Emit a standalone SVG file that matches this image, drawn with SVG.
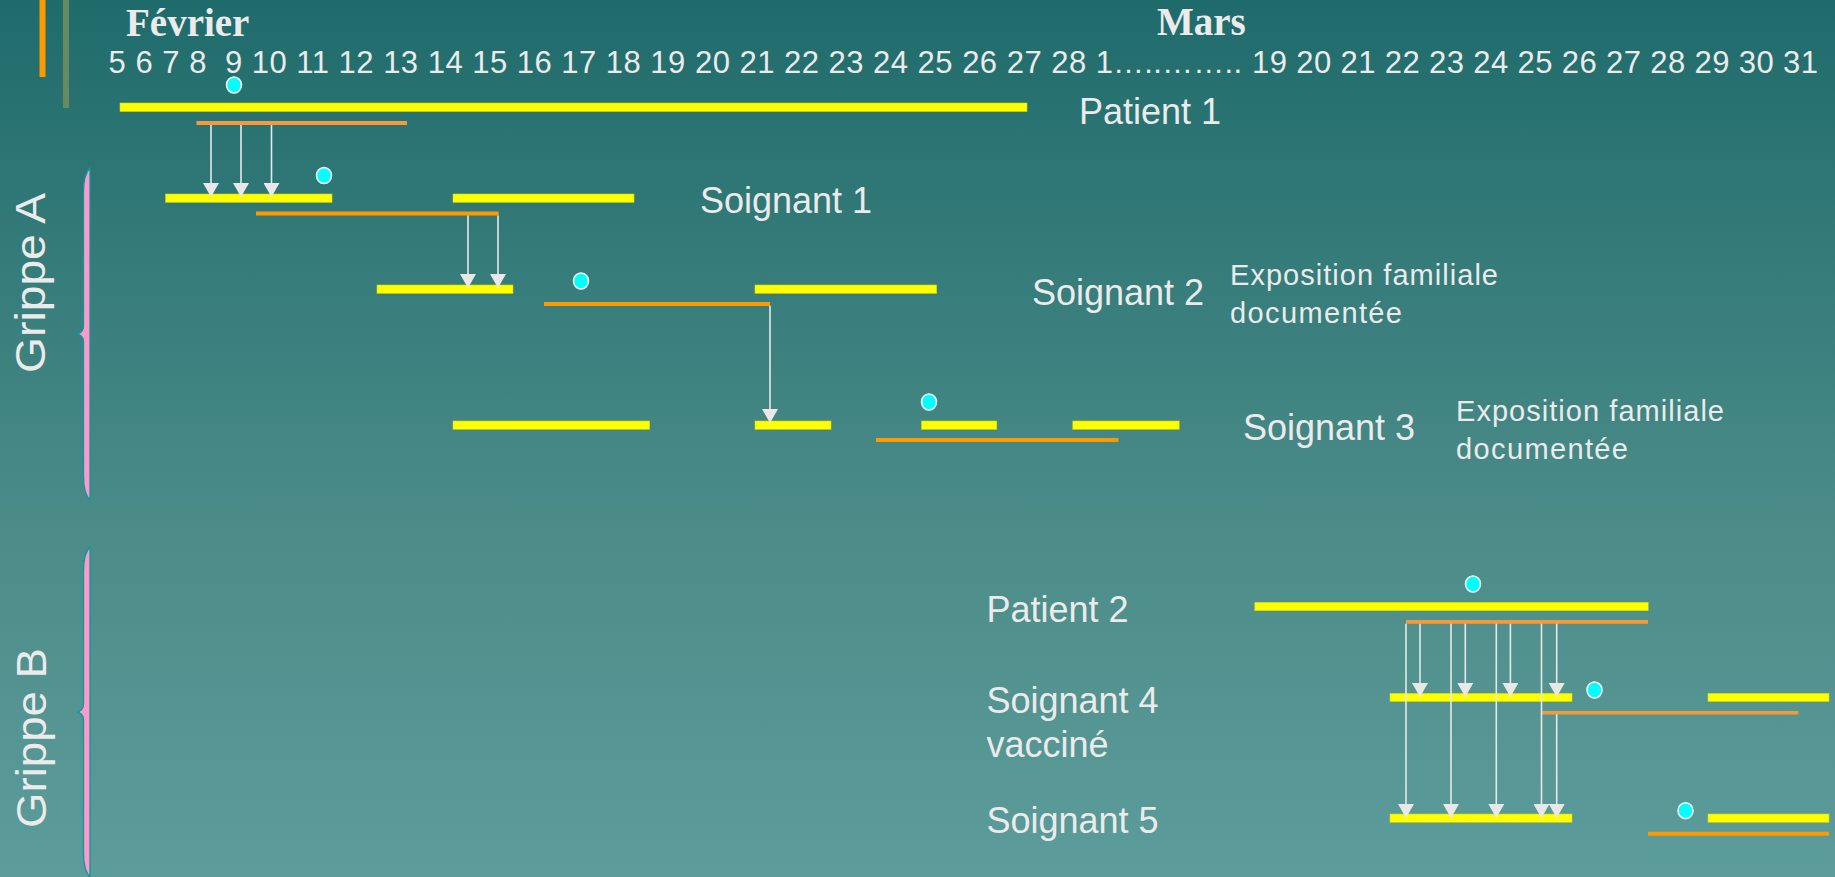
<svg xmlns="http://www.w3.org/2000/svg" width="1835" height="877" viewBox="0 0 1835 877">
<defs>
<linearGradient id="bg" x1="0" y1="0" x2="0" y2="1">
<stop offset="0" stop-color="#1f6b6b"/>
<stop offset="0.6" stop-color="#4b8c89"/>
<stop offset="1" stop-color="#5c9c9a"/>
</linearGradient>
<marker id="ah" viewBox="0 0 14 16" refX="14" refY="8" markerWidth="14" markerHeight="16" markerUnits="userSpaceOnUse" orient="auto">
<path d="M0,0 L14,8 L0,16 Z" fill="#e8e8e8"/>
</marker>
<style>
.txt{font-family:"Liberation Sans",Arial,sans-serif;fill:#ebebeb}
.lbl{font-size:36px}
.num{font-size:31px}
.month{font-family:"Liberation Serif","Times New Roman",serif;font-weight:bold;font-size:39px;fill:#ebebeb}
.expo{font-family:"Liberation Sans",Arial,sans-serif;font-size:29px;fill:#ebebeb}
.grp{font-size:42px}
.ill{fill:#ffff00;stroke:#d6d600;stroke-width:0.6}
.exp{fill:#ff9900}
.expl{fill:#f5993a}
.dot{fill:#00ffff;stroke:#ffffff;stroke-width:1.5}
.arr{stroke:#e8e8e8;stroke-width:1.6;fill:none;marker-end:url(#ah)}
.brace{fill:#ff99cc;stroke:#0a9a9a;stroke-width:1.3}
</style>
</defs>
<rect x="0" y="0" width="1835" height="877" fill="url(#bg)"/>
<rect x="39.5" y="0" width="6" height="77" fill="#ff9900"/>
<rect x="63" y="0" width="6" height="108" fill="#678a5f"/>

<g id="axis">
<text class="month" x="126" y="36">Février</text>
<text class="month" x="1157" y="35">Mars</text>
<text class="txt num" x="108.5" y="73" textLength="98" lengthAdjust="spacing">5 6 7 8</text>
<text class="txt num" x="225" y="73" textLength="888" lengthAdjust="spacing">9 10 11 12 13 14 15 16 17 18 19 20 21 22 23 24 25 26 27 28 1</text>
<text class="txt num" x="1113" y="73" textLength="129" lengthAdjust="spacing">…..……..</text>
<text class="txt num" x="1252" y="73" textLength="566" lengthAdjust="spacing">19 20 21 22 23 24 25 26 27 28 29 30 31</text>
</g>

<g id="grippeA">
<path class="brace" d="M90,168 C86,172 83.5,180 83.5,192 L83.5,326 C83.5,331 81,333 77,334 C81,335 83.5,337 83.5,342 L83.5,476 C83.5,488 86,496 90,500 Z"/>
<text class="txt grp" transform="translate(45,373) rotate(-90)" textLength="180" lengthAdjust="spacingAndGlyphs">Grippe A</text>
</g>
<g id="grippeB">
<path class="brace" d="M90,547 C86,551 83.5,559 83.5,571 L83.5,704 C83.5,709 81,711 77,712 C81,713 83.5,715 83.5,720 L83.5,853 C83.5,865 86,873 90,877 Z"/>
<text class="txt grp" transform="translate(46,828) rotate(-90)" textLength="180" lengthAdjust="spacingAndGlyphs">Grippe B</text>
</g>

<g id="patient1">
<rect class="ill" x="120" y="103" width="907" height="8.5"/>
<rect class="expl" x="196.5" y="121" width="210.5" height="4"/>
<ellipse class="dot" cx="234" cy="85" rx="7.5" ry="8"/>
<text class="txt lbl" x="1079" y="124">Patient 1</text>
</g>

<g id="soignant1">
<rect class="ill" x="165.6" y="194" width="166.4" height="8.3"/>
<rect class="ill" x="453" y="194" width="181" height="8.3"/>
<rect class="exp" x="256" y="211.5" width="242.7" height="4"/>
<ellipse class="dot" cx="324" cy="175.5" rx="7.5" ry="8"/>
<text class="txt lbl" x="700" y="213">Soignant 1</text>
</g>

<g id="soignant2">
<rect class="ill" x="377" y="285" width="136" height="8.3"/>
<rect class="ill" x="755" y="285" width="181.7" height="8.3"/>
<rect class="exp" x="544" y="302" width="226" height="4"/>
<ellipse class="dot" cx="581" cy="281" rx="7.5" ry="8"/>
<text class="txt lbl" x="1032" y="305">Soignant 2</text>
<text class="expo" x="1230" y="285" textLength="268" lengthAdjust="spacing">Exposition familiale</text>
<text class="expo" x="1230" y="322.7" textLength="172" lengthAdjust="spacing">documentée</text>
</g>

<g id="soignant3">
<rect class="ill" x="453" y="421" width="196.6" height="8.3"/>
<rect class="ill" x="755" y="421" width="76" height="8.3"/>
<rect class="ill" x="921.5" y="421" width="75.3" height="8.3"/>
<rect class="ill" x="1072.8" y="421" width="106.4" height="8.3"/>
<rect class="exp" x="876" y="438" width="242.4" height="4"/>
<ellipse class="dot" cx="929" cy="402" rx="7.5" ry="8"/>
<text class="txt lbl" x="1243" y="440">Soignant 3</text>
<text class="expo" x="1456" y="421" textLength="268" lengthAdjust="spacing">Exposition familiale</text>
<text class="expo" x="1456" y="459" textLength="172" lengthAdjust="spacing">documentée</text>
</g>

<g id="patient2">
<rect class="ill" x="1254.8" y="602.3" width="393.4" height="8.4"/>
<rect class="expl" x="1406" y="620" width="242" height="3.8"/>
<ellipse class="dot" cx="1473" cy="584" rx="7.5" ry="8"/>
<text class="txt lbl" x="986.5" y="621.5">Patient 2</text>
</g>

<g id="soignant4">
<rect class="ill" x="1390" y="693.3" width="182" height="8.2"/>
<rect class="ill" x="1708" y="693.3" width="121" height="8.2"/>
<rect class="expl" x="1541.5" y="711" width="256.8" height="3.5"/>
<ellipse class="dot" cx="1594.5" cy="690" rx="7.5" ry="8"/>
<text class="txt lbl" x="986.5" y="712.5">Soignant 4</text>
<text class="txt lbl" x="986.5" y="756.7">vacciné</text>
</g>

<g id="soignant5">
<rect class="ill" x="1390" y="814" width="182" height="8.3"/>
<rect class="ill" x="1708" y="814" width="121" height="8.3"/>
<rect class="exp" x="1648" y="831.7" width="181" height="4"/>
<ellipse class="dot" cx="1685.5" cy="810.7" rx="7.5" ry="8"/>
<text class="txt lbl" x="986.5" y="833.3">Soignant 5</text>
</g>

<g id="connectors">
<line class="arr" x1="211" y1="125" x2="211" y2="197"/>
<line class="arr" x1="241" y1="125" x2="241" y2="197"/>
<line class="arr" x1="271.5" y1="125" x2="271.5" y2="197"/>
<line class="arr" x1="468" y1="215.5" x2="468" y2="288"/>
<line class="arr" x1="498" y1="215.5" x2="498" y2="288"/>
<line class="arr" x1="770" y1="305.7" x2="770" y2="423"/>
<line class="arr" x1="1420" y1="623.7" x2="1420" y2="697"/>
<line class="arr" x1="1465.3" y1="623.7" x2="1465.3" y2="697"/>
<line class="arr" x1="1510.4" y1="623.7" x2="1510.4" y2="697"/>
<line class="arr" x1="1556.7" y1="623.7" x2="1556.7" y2="697"/>
<line class="arr" x1="1406" y1="623.7" x2="1406" y2="818"/>
<line class="arr" x1="1451" y1="623.7" x2="1451" y2="818"/>
<line class="arr" x1="1496.3" y1="623.7" x2="1496.3" y2="818"/>
<line class="arr" x1="1541.5" y1="623.7" x2="1541.5" y2="818"/>
<line class="arr" x1="1556.7" y1="714.3" x2="1556.7" y2="818"/>
</g>
</svg>
